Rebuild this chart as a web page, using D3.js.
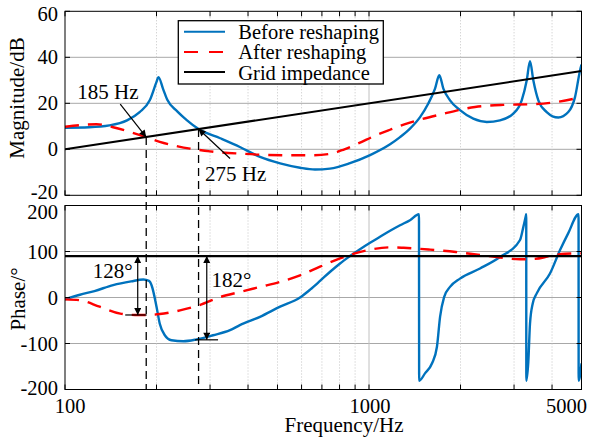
<!DOCTYPE html>
<html>
<head>
<meta charset="utf-8">
<script src="https://cdn.jsdelivr.net/npm/d3@7"></script>
<style>
body { margin: 0; background: #fff; }
text { font-family: "Liberation Serif", "Times New Roman", serif; fill: #000; }
</style>
</head>
<body>
<div id="chart"></div>
<script>
// values (frequency in Hz)
var beforeMagFreq = [100, 120, 140, 160, 176, 190, 200, 203, 210, 217, 234, 252, 275, 324, 376, 438, 510, 593, 664, 744, 866, 1008, 1173, 1265, 1364, 1472, 1567, 1649, 1703, 1756, 1847, 1992, 2203, 2439, 2697, 2983, 3179, 3303, 3385, 3471, 3606, 3842, 4195, 4524, 4760, 4945, 5000];
var beforeMagDb   = [9.4, 9.6, 10.4, 12.6, 16.2, 21.3, 29.3, 31.4, 26.4, 21.5, 16.5, 12.6, 8.8, 4.8, 1, -3.3, -6.1, -8, -8.8, -8.4, -6, -2.5, 2.2, 5.3, 9, 14, 19.9, 26.4, 32.2, 26.4, 21.3, 17, 13.3, 11.9, 12.6, 15.5, 21.3, 30, 38.3, 30, 21.3, 16.2, 13.8, 16.2, 22.7, 34.3, 36.8];

var afterMagFreq = [100, 112, 127, 144, 165, 185, 205, 235, 258, 300, 380, 450, 550, 650, 744, 830, 930, 1050, 1173, 1354, 1725, 2232, 2760, 3463, 4153, 5000];
var afterMagDb   = [9.8, 10.5, 10.9, 9.6, 7.4, 5.3, 3.2, 1.3, 0.3, -0.9, -1.9, -2.4, -2.6, -2.6, -2.0, 0.0, 2.8, 6.0, 8.5, 11.5, 15.2, 18.4, 19.3, 19.6, 20.6, 22.7];

var gridMagFreq = [100, 5000];
var gridMagDb   = [0, 34];

var beforePhFreq = [100, 112, 125, 144, 165, 181, 189, 193, 200, 205, 213, 224, 245, 271, 307, 349, 376, 438, 510, 593, 640, 690, 745, 803, 866, 934, 1008, 1087, 1173, 1265, 1364, 1460, 1462, 1528, 1612, 1673, 1713, 1766, 1847, 1992, 2318, 2697, 3139, 3218, 3277, 3290, 3292, 3342, 3385, 3456, 3562, 3938, 4250, 4524, 4890, 4893, 5000];
var beforePhDeg  = [-4, 6, 14, 27, 35, 39, 36, 25, -20, -57, -82, -93, -95, -91, -82, -71, -60, -42, -20, 0, 17, 36, 56, 74, 90, 105, 119, 132, 145, 157, 168, 181, -181, -165, -143, -107, -42, 1, 23, 41, 63, 88, 125, 153, 176, 181, -181, -140, -57, -13, 9, 52, 103, 140, 181, -181, -143];

var afterPhFreq = [100, 112, 130, 152, 170, 185, 205, 239, 276, 324, 376, 438, 510, 593, 690, 803, 899, 1008, 1173, 1300, 1590, 1930, 2280, 2700, 3139, 3517, 3938, 4413, 5000];
var afterPhDeg  = [-4, -6, -20, -35, -38, -38, -36, -28, -17, 1, 12, 23, 34, 48, 67, 85, 96, 104, 109, 108, 104, 99, 93, 87, 83, 84, 90, 95, 96];

var gridPhFreq = [100, 5000];
var gridPhDeg  = [90, 90];

// annotations
var crossFreq   = [185, 275];
var crossDb     = [5.3, 8.8];
var crossLabels = ["185 Hz", "275 Hz"];
var marginLow    = [-38, -92];
var marginLabels = ["128°", "182°"];

var legendLabels = ["Before reshaping", "After reshaping", "Grid impedance"];
var freqTicks  = [100, 1000, 5000];
var minorTicks = [200, 300, 400, 500, 600, 700, 800, 900, 2000, 3000, 4000];
var magTicks   = [-20, 0, 20, 40, 60];
var phaseTicks = [-200, -100, 0, 100, 200];

var blue = "#0072BD", red = "#FF0000";

var width = 589, height = 441;
var left = 65, right = 581.5;
var magTop = 11.3, magBottom = 195.3;
var phTop = 205.5, phBottom = 389.5;

var svg = d3.select("#chart").append("svg")
    .attr("width", width)
    .attr("height", height);

var defs = svg.append("defs");
defs.append("marker")
    .attr("id", "arr")
    .attr("viewBox", "0 0 10 10")
    .attr("refX", 10).attr("refY", 5)
    .attr("markerWidth", 9).attr("markerHeight", 7)
    .attr("markerUnits", "userSpaceOnUse")
    .attr("orient", "auto-start-reverse")
  .append("path")
    .attr("d", "M0,0L10,5L0,10Z")
    .attr("fill", "#000");

var x = d3.scaleLog().domain([100, 5000]).range([left, right]);
var yMag = d3.scaleLinear().domain([-20, 60]).range([magBottom, magTop]);
var yPh = d3.scaleLinear().domain([-200, 200]).range([phBottom, phTop]);

function pairs(fs, vs) {
    return fs.map(function(f, i){ return [f, vs[i]]; });
}

function panel(id, y, yTicks, top, bottom) {
    var g = svg.append("g");
    defs.append("clipPath").attr("id", id)
      .append("rect")
        .attr("x", left).attr("y", top)
        .attr("width", right - left).attr("height", bottom - top);

    // grid
    g.selectAll(".hg").data(yTicks.slice(1, -1)).enter().append("line")
        .attr("x1", left).attr("x2", right)
        .attr("y1", function(d){ return y(d); })
        .attr("y2", function(d){ return y(d); })
        .attr("stroke", "#a8a8a8").attr("stroke-width", 1);
    g.selectAll(".vg").data(minorTicks).enter().append("line")
        .attr("x1", function(d){ return x(d); })
        .attr("x2", function(d){ return x(d); })
        .attr("y1", top).attr("y2", bottom)
        .attr("stroke", "#c4c4c4").attr("stroke-width", 1)
        .attr("stroke-dasharray", "1,2");
    g.append("line")
        .attr("x1", x(1000)).attr("x2", x(1000))
        .attr("y1", top).attr("y2", bottom)
        .attr("stroke", "#c0c0c0").attr("stroke-width", 1);
    return g;
}

var magG = panel("clipMag", yMag, magTicks, magTop, magBottom);
var phG = panel("clipPh", yPh, phaseTicks, phTop, phBottom);

// dashed markers for the crossing frequencies
svg.selectAll(".cross").data(crossFreq).enter().append("line")
    .attr("x1", function(d){ return x(d); })
    .attr("x2", function(d){ return x(d); })
    .attr("y1", function(d, i){ return yMag(crossDb[i]); })
    .attr("y2", phBottom)
    .attr("stroke", "#000").attr("stroke-width", 1.3)
    .attr("stroke-dasharray", "8,5");

var line = d3.line()
    .x(function(d){ return x(d[0]); })
    .curve(d3.curveMonotoneX);

function curve(g, clip, y, data, color, w, dash) {
    g.append("path")
        .datum(data)
        .attr("clip-path", "url(#" + clip + ")")
        .attr("d", line.y(function(d){ return y(d[1]); }))
        .attr("fill", "none")
        .attr("stroke", color)
        .attr("stroke-width", w)
        .attr("stroke-dasharray", dash || null);
}

curve(magG, "clipMag", yMag, pairs(beforeMagFreq, beforeMagDb), blue, 2.4);
curve(magG, "clipMag", yMag, pairs(afterMagFreq, afterMagDb), red, 2.4, "14,9");
curve(magG, "clipMag", yMag, pairs(gridMagFreq, gridMagDb), "#000", 2);

curve(phG, "clipPh", yPh, pairs(beforePhFreq, beforePhDeg), blue, 2.4);
curve(phG, "clipPh", yPh, pairs(afterPhFreq, afterPhDeg), red, 2.4, "14,9");
curve(phG, "clipPh", yPh, pairs(gridPhFreq, gridPhDeg), "#000", 2.4);

// axes boxes with inward ticks
function frame(y, yTicks, top, bottom) {
    var g = svg.append("g").attr("stroke", "#000").attr("stroke-width", 1);
    g.append("rect")
        .attr("x", left).attr("y", top)
        .attr("width", right - left).attr("height", bottom - top)
        .attr("fill", "none");
    var xt = freqTicks.concat(minorTicks);
    g.selectAll(".tb").data(xt).enter().append("line")
        .attr("x1", function(d){ return x(d); }).attr("x2", function(d){ return x(d); })
        .attr("y1", bottom).attr("y2", bottom - 5);
    g.selectAll(".tt").data(xt).enter().append("line")
        .attr("x1", function(d){ return x(d); }).attr("x2", function(d){ return x(d); })
        .attr("y1", top).attr("y2", top + 5);
    g.selectAll(".tl").data(yTicks).enter().append("line")
        .attr("x1", left).attr("x2", left + 5)
        .attr("y1", function(d){ return y(d); }).attr("y2", function(d){ return y(d); });
    g.selectAll(".tr").data(yTicks).enter().append("line")
        .attr("x1", right).attr("x2", right - 5)
        .attr("y1", function(d){ return y(d); }).attr("y2", function(d){ return y(d); });
}
frame(yMag, magTicks, magTop, magBottom);
frame(yPh, phaseTicks, phTop, phBottom);

// tick labels
function yLabels(y, ticks, nudge) {
    svg.append("g").selectAll("text").data(ticks).enter().append("text")
        .attr("x", 58)
        .attr("y", function(d, i){ return y(d) + nudge[i]; })
        .attr("dy", "0.35em")
        .attr("text-anchor", "end")
        .style("font-size", "20.5px")
        .text(function(d){ return d; });
}
yLabels(yMag, magTicks, [-3, 0, 0, 0, 3]);
yLabels(yPh, phaseTicks, [-2, 0, 0, 0, 6]);

var xNudge = [5, 1, -15];
svg.append("g").selectAll("text").data(freqTicks).enter().append("text")
    .attr("x", function(d, i){ return x(d) + xNudge[i]; })
    .attr("y", 413)
    .attr("text-anchor", "middle")
    .style("font-size", "20.5px")
    .text(function(d){ return d; });

svg.append("text")
    .attr("x", 344).attr("y", 432)
    .attr("text-anchor", "middle")
    .style("font-size", "21px")
    .text("Frequency/Hz");
svg.append("text")
    .attr("transform", "translate(24,98) rotate(-90)")
    .attr("text-anchor", "middle")
    .style("font-size", "21px")
    .text("Magnitude/dB");
svg.append("text")
    .attr("transform", "translate(25,299) rotate(-90)")
    .attr("text-anchor", "middle")
    .style("font-size", "21px")
    .text("Phase/°");

// crossing labels with arrows
var crossTextOff = [[-69, -38], [6.5, 52]];
var crossArrowOff = [[-26, -33], [31.5, 29.5]];
crossFreq.forEach(function(f, i){
    var px = x(f), py = yMag(crossDb[i]);
    svg.append("line")
        .attr("x1", px + crossArrowOff[i][0]).attr("y1", py + crossArrowOff[i][1])
        .attr("x2", px).attr("y2", py)
        .attr("stroke", "#000").attr("stroke-width", 1.2)
        .attr("marker-end", "url(#arr)");
    svg.append("text")
        .attr("x", px + crossTextOff[i][0]).attr("y", py + crossTextOff[i][1])
        .style("font-size", "21px")
        .text(crossLabels[i]);
});

// phase margin arrows
var arrowOff = [-8.5, 8.2];
var barOff = [[-21, 0.5], [-3.5, 19.5]];
crossFreq.forEach(function(f, i){
    var px = x(f) + arrowOff[i];
    svg.append("line")
        .attr("x1", px).attr("x2", px)
        .attr("y1", yPh(90)).attr("y2", yPh(marginLow[i]))
        .attr("stroke", "#000").attr("stroke-width", 1.2)
        .attr("marker-start", "url(#arr)")
        .attr("marker-end", "url(#arr)");
    svg.append("line")
        .attr("x1", x(f) + barOff[i][0]).attr("x2", x(f) + barOff[i][1])
        .attr("y1", yPh(marginLow[i])).attr("y2", yPh(marginLow[i]))
        .attr("stroke", "#000").attr("stroke-width", 1.2);
});
svg.append("text")
    .attr("x", x(crossFreq[0]) - 13.5).attr("y", 278.3)
    .attr("text-anchor", "end")
    .style("font-size", "21px")
    .text(marginLabels[0]);
svg.append("text")
    .attr("x", x(crossFreq[1]) + 13).attr("y", 286.5)
    .style("font-size", "21px")
    .text(marginLabels[1]);

// legend
var lg = svg.append("g");
lg.append("rect")
    .attr("x", 178.3).attr("y", 20.7)
    .attr("width", 205).attr("height", 63.3)
    .attr("fill", "#fff").attr("stroke", "#000").attr("stroke-width", 1.3);
var legColors = [blue, red, "#000"];
var legDash = [null, "14,11", null];
legendLabels.forEach(function(t, i){
    var ly = 31.7 + i * 20.2;
    lg.append("line")
        .attr("x1", 184).attr("x2", 225)
        .attr("y1", ly).attr("y2", ly)
        .attr("stroke", legColors[i]).attr("stroke-width", 2)
        .attr("stroke-dasharray", legDash[i]);
    lg.append("text")
        .attr("x", 238.3).attr("y", ly + 7.5)
        .style("font-size", "20.5px")
        .text(t);
});
</script>
</body>
</html>
